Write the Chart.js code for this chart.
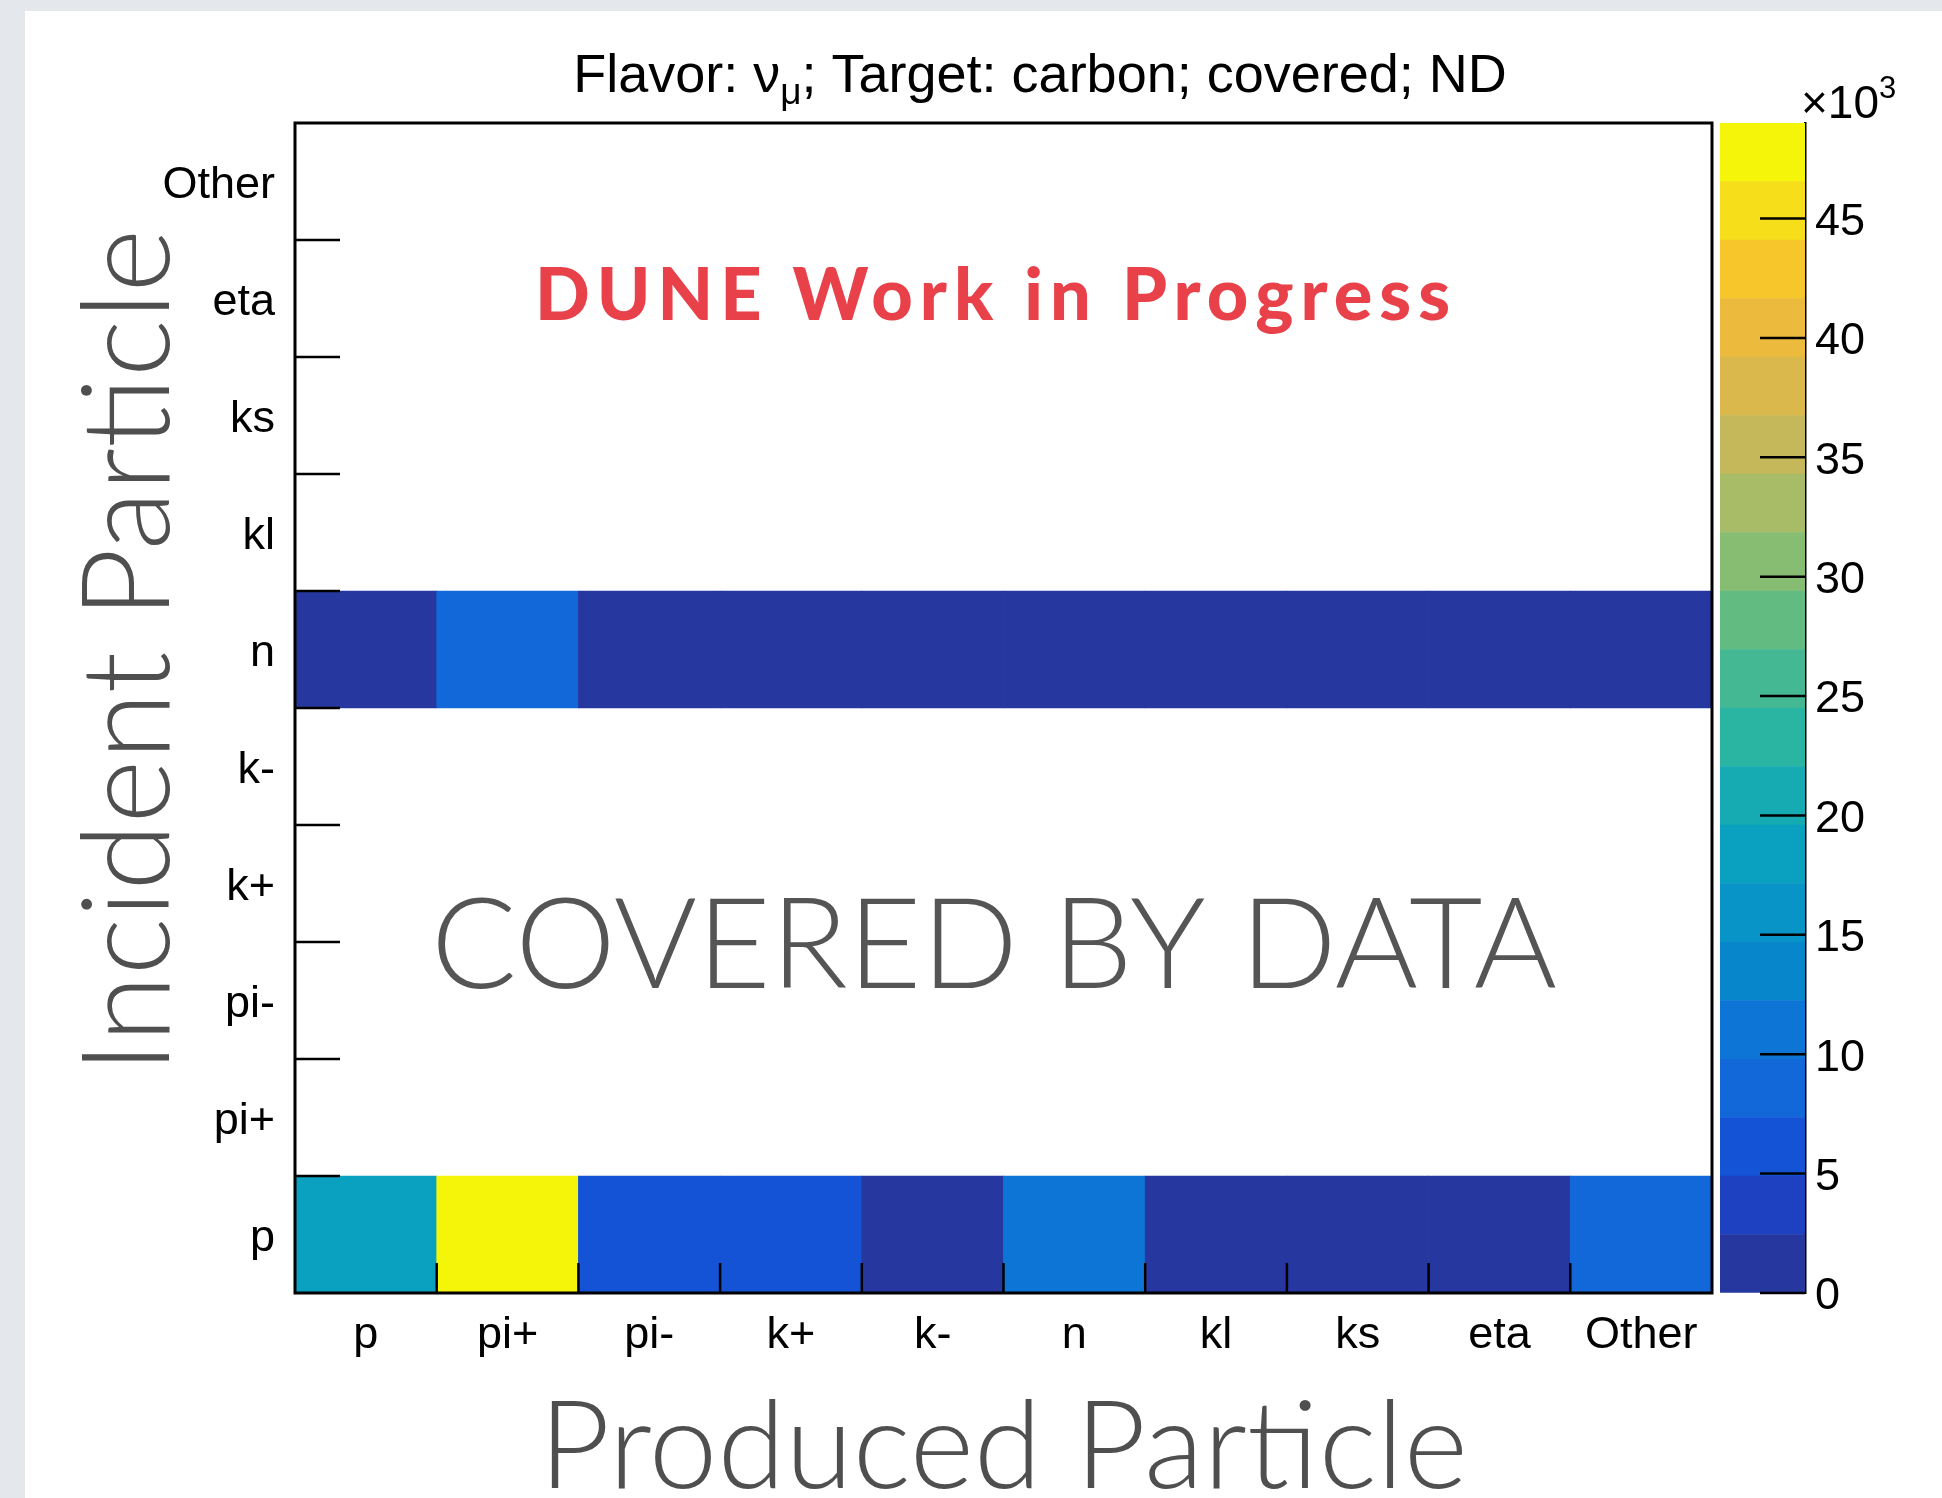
<!DOCTYPE html>
<html>
<head>
<meta charset="utf-8">
<script src="https://cdn.jsdelivr.net/npm/chart.js@4.4.1/dist/chart.umd.min.js"></script>
<style>
  html, body { margin: 0; padding: 0; }
  body { position: relative; width: 1942px; height: 1498px; overflow: hidden; background: #e4e7eb; }
  #sheet { position: absolute; left: 25px; top: 11px; right: 0; bottom: 0; background: #fff; }
  canvas { position: absolute; left: 0; top: 0; }
</style>
</head>
<body>
<div id="sheet"></div>
<canvas id="heat" width="1942" height="1498"></canvas>
<canvas id="zbar" width="1942" height="1498"></canvas>
<script>
const producedLabels = ['p', 'pi+', 'pi-', 'k+', 'k-', 'n', 'kl', 'ks', 'eta', 'Other'];
const incidentLabels = ['p', 'pi+', 'pi-', 'k+', 'k-', 'n', 'kl', 'ks', 'eta', 'Other'];

// entries per produced particle; only p and n incident rows are covered
const protonRow = [17500, 49000, 6200, 5900, 1500, 10300, 1400, 1100, 800, 8000];
const neutronRow = [1800, 8200, 600, 500, 150, 1200, 250, 200, 100, 400];

const zTicks = [0, 5, 10, 15, 20, 25, 30, 35, 40, 45];
const zMax = 49000;
const nContours = 20;

// ROOT kBird-like palette, one colour per contour band (bottom to top)
const birdPalette = [
    '#26389f', '#1d41c0', '#1453d6', '#1268d9', '#0c75d5',
    '#0886cc', '#0894c6', '#0aa0c0', '#16aab2', '#2ab4a2',
    '#44b893', '#62bc82', '#86bd72', '#a8bb66', '#c4b85a',
    '#dab84c', '#ecba3c', '#f7c62a', '#f6de1a', '#f5f50a',
];

const axisFont = { family: "'Liberation Sans', Arial, sans-serif", size: 45 };
const slideFont = "'Lato', 'Open Sans', sans-serif";

const zColor = (v) => birdPalette[Math.min(nContours - 1, Math.floor((v / zMax) * nContours))];

const rowDataset = (name, values) => {
    const r = incidentLabels.indexOf(name);
    return {
        label: name,
        data: values.map((v) => (v > 0 ? [r, r + 1] : null)),
        backgroundColor: values.map(zColor),
        borderWidth: 0,
        barPercentage: 1,
        categoryPercentage: 1,
        grouped: false,
    };
};

const line = (ctx, x0, y0, x1, y1) => {
    ctx.beginPath();
    ctx.moveTo(x0, y0);
    ctx.lineTo(x1, y1);
    ctx.stroke();
};

const framePlugin = {
    id: 'frame',
    afterDatasetsDraw(chart) {
        const { ctx, chartArea, scales } = chart;
        const { left, right, top, bottom } = chartArea;
        ctx.save();
        ctx.strokeStyle = '#000';
        ctx.lineWidth = 2.5;
        for (let i = 1; i < incidentLabels.length; i++) {
            const y = scales.y.getPixelForValue(i);
            line(ctx, left, y, left + 45, y);
        }
        for (let i = 1; i < producedLabels.length; i++) {
            const x = (scales.x.getPixelForValue(i - 1) + scales.x.getPixelForValue(i)) / 2;
            line(ctx, x, bottom, x, bottom - 30);
        }
        ctx.lineWidth = 3;
        ctx.strokeRect(left, top, right - left, bottom - top);

        // histogram title with subscript mu
        const parts = [
            { t: 'Flavor: \u03bd', size: 54, dy: 0 },
            { t: '\u03bc', size: 37, dy: 12 },
            { t: '; Target: carbon; covered; ND', size: 54, dy: 0 },
        ];
        const widths = parts.map((p) => {
            ctx.font = `${p.size}px ${axisFont.family}`;
            return ctx.measureText(p.t).width;
        });
        let x = 1040 - widths.reduce((a, b) => a + b, 0) / 2;
        ctx.fillStyle = '#000';
        ctx.textBaseline = 'alphabetic';
        ctx.textAlign = 'left';
        parts.forEach((p, i) => {
            ctx.font = `${p.size}px ${axisFont.family}`;
            ctx.fillText(p.t, x, 92 + p.dy);
            x += widths[i];
        });

        ctx.textAlign = 'center';
        ctx.fillStyle = '#e9414a';
        ctx.font = `900 72px ${slideFont}`;
        ctx.letterSpacing = '7px';
        ctx.fillText('DUNE Work in Progress', 996, 320);
        ctx.letterSpacing = '0px';

        ctx.fillStyle = '#555555';
        ctx.font = `300 127px ${slideFont}`;
        ctx.fillText('COVERED BY DATA', 994, 988);

        // vertical axis title
        ctx.save();
        ctx.translate(169, 651);
        ctx.rotate(-Math.PI / 2);
        ctx.fillStyle = '#4f4f4f';
        ctx.font = `300 122px ${slideFont}`;
        ctx.fillText('Incident Particle', 0, 0);
        ctx.restore();
        ctx.restore();
    },
};

new Chart(document.getElementById('heat'), {
    type: 'bar',
    data: {
        labels: producedLabels,
        datasets: [rowDataset('p', protonRow), rowDataset('n', neutronRow)],
    },
    options: {
        responsive: false,
        animation: false,
        events: [],
        layout: { padding: { left: 0, top: 123, right: 230, bottom: 0 } },
        plugins: {
            legend: { display: false },
            tooltip: { enabled: false },
        },
        scales: {
            x: {
                type: 'category',
                offset: true,
                grid: { display: false, drawTicks: false },
                border: { display: false },
                ticks: { font: axisFont, color: '#000', padding: 16, maxRotation: 0, autoSkip: false },
                title: {
                    display: true,
                    text: 'Produced Particle',
                    color: '#4f4f4f',
                    font: { family: slideFont, weight: 300, size: 123, lineHeight: 0.8 },
                    padding: { top: 0, bottom: 0 },
                },
                afterFit: (s) => {
                    s.height = 205;
                },
            },
            y: {
                type: 'linear',
                min: 0,
                max: 10,
                afterBuildTicks: (s) => {
                    s.ticks = incidentLabels.map((_, i) => ({ value: i + 0.5 }));
                },
                grid: { display: false, drawTicks: false },
                border: { display: false },
                ticks: {
                    callback: (v, i) => incidentLabels[i],
                    font: axisFont,
                    color: '#000',
                    padding: 20,
                    labelOffset: 4,
                    autoSkip: false,
                },
                afterFit: (s) => {
                    s.width = 295;
                },
            },
        },
    },
    plugins: [framePlugin],
});

const colorbarPlugin = {
    id: 'colorbarTicks',
    afterDatasetsDraw(chart) {
        const { ctx, chartArea, scales } = chart;
        ctx.save();
        ctx.strokeStyle = '#000';
        ctx.lineWidth = 2.5;
        zTicks.forEach((t) => {
            const y = scales.y.getPixelForValue(t * 1000);
            line(ctx, chartArea.right - 45, y, chartArea.right, y);
        });
        ctx.fillStyle = '#000';
        ctx.textAlign = 'left';
        ctx.textBaseline = 'alphabetic';
        ctx.font = `46px ${axisFont.family}`;
        ctx.fillText('\u00d710', chartArea.right - 4, 118);
        const w = ctx.measureText('\u00d710').width;
        ctx.font = `31px ${axisFont.family}`;
        ctx.fillText('3', chartArea.right - 4 + w, 98);
        ctx.restore();
    },
};

new Chart(document.getElementById('zbar'), {
    type: 'bar',
    data: {
        labels: ['z'],
        datasets: birdPalette.map((c) => ({
            data: [zMax / nContours],
            backgroundColor: c,
            borderWidth: 0,
            barPercentage: 1,
            categoryPercentage: 1,
        })),
    },
    options: {
        responsive: false,
        animation: false,
        events: [],
        layout: { padding: { left: 1720, top: 123, right: 0, bottom: 205 } },
        plugins: {
            legend: { display: false },
            tooltip: { enabled: false },
        },
        scales: {
            x: { display: false, stacked: true },
            y: {
                position: 'right',
                stacked: true,
                min: 0,
                max: zMax,
                afterBuildTicks: (s) => {
                    s.ticks = zTicks.map((t) => ({ value: t * 1000 }));
                },
                grid: { drawOnChartArea: false, drawTicks: false },
                border: { display: true, color: '#000', width: 2.5 },
                ticks: {
                    callback: (v) => v / 1000,
                    font: axisFont,
                    color: '#000',
                    padding: 10,
                    labelOffset: 4,
                    autoSkip: false,
                },
                afterFit: (s) => {
                    s.width = 137;
                },
            },
        },
    },
    plugins: [colorbarPlugin],
});
</script>
</body>
</html>
